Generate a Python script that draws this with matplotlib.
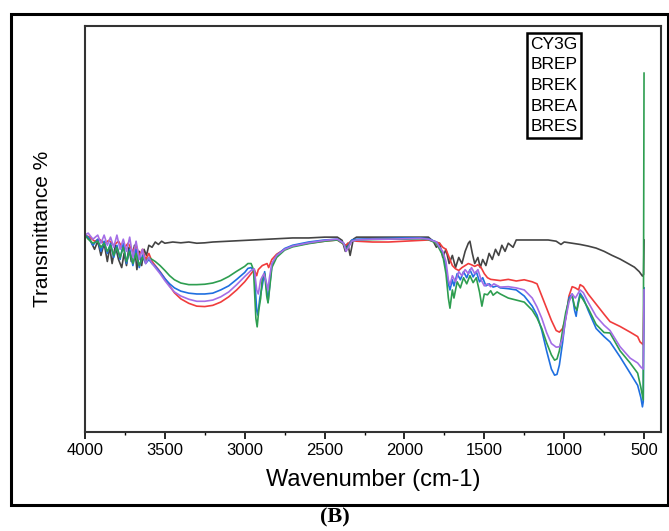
import matplotlib.pyplot as plt
from matplotlib.patches import Rectangle
from matplotlib.ticker import MultipleLocator

# Series (wavenumber in cm-1, transmittance in %)
cy3g_wn = [4000, 3970, 3940, 3920, 3900, 3880, 3860, 3845, 3830, 3810, 3790, 3770, 3755, 3740,
           3725, 3710, 3690, 3675, 3660, 3645, 3630, 3615, 3600, 3580, 3560, 3540, 3520, 3500,
           3450, 3400, 3350, 3300, 3250, 3200, 3100, 3000, 2900, 2800, 2700, 2600, 2500, 2420,
           2390, 2370, 2355, 2340, 2320, 2300, 2200, 2100, 2000, 1900, 1850, 1820, 1800, 1780,
           1760, 1740, 1720, 1700, 1680, 1660, 1640, 1620, 1600, 1590, 1575, 1560, 1540, 1525,
           1510, 1490, 1470, 1450, 1430, 1410, 1390, 1370, 1350, 1320, 1300, 1200, 1100, 1050,
           1020, 1000, 950, 900, 850, 800, 750, 700, 650, 600, 560, 530, 510, 503, 500]
cy3g_t = [48.5, 47.5, 45.0, 47.0, 43.5, 46.5, 42.0, 45.5, 41.5, 46.0, 42.5, 40.5, 44.0, 41.0,
          45.5, 42.0, 46.0, 40.0, 44.5, 41.0, 45.0, 43.5, 46.0, 45.5, 46.8, 46.2, 47.0, 46.5,
          46.8, 46.6, 46.8, 46.5, 46.6, 46.8, 47.0, 47.2, 47.4, 47.6, 47.8, 47.8, 48.0, 48.0,
          47.2, 44.5, 46.5, 43.5, 47.5, 48.0, 48.0, 48.0, 48.0, 48.0, 48.0, 47.0, 45.5, 46.5,
          43.0, 45.0, 41.5, 43.5, 40.5, 43.0, 41.5, 44.5, 46.5, 47.0, 44.0, 41.5, 43.0, 40.5,
          42.5, 41.0, 44.0, 42.5, 45.0, 43.5, 46.0, 44.5, 46.5, 45.5, 47.3, 47.3, 47.3, 47.0,
          46.2, 46.8, 46.5, 46.2, 45.8, 45.3, 44.5, 43.5, 42.6, 41.5, 40.6, 39.5, 38.4, 38.8, 47.3]

brep_wn = [4000, 3970, 3940, 3910, 3880, 3850, 3820, 3790, 3760, 3730, 3700, 3680, 3660, 3640,
           3620, 3600, 3580, 3560, 3530, 3500, 3470, 3440, 3400, 3350, 3300, 3250, 3200, 3150,
           3100, 3050, 3000, 2960, 2940, 2925, 2915, 2890, 2860, 2850, 2830, 2800, 2750, 2700,
           2600, 2500, 2420, 2370, 2350, 2330, 2300, 2200, 2100, 2000, 1900, 1850, 1800, 1780,
           1760, 1740, 1720, 1700, 1680, 1660, 1640, 1620, 1600, 1580, 1560, 1540, 1520, 1500,
           1480, 1460, 1440, 1400, 1350, 1300, 1250, 1200, 1170, 1140, 1110, 1080, 1050, 1030,
           1010, 990, 970, 950, 930, 910, 900, 880, 850, 800, 750, 713, 650, 587, 540, 525, 505, 500]
brep_t = [48.5, 48.0, 47.0, 47.5, 46.5, 47.2, 46.0, 47.0, 45.0, 46.5, 44.5, 46.0, 43.5, 45.0,
          42.5, 44.0, 42.0, 41.0, 39.5, 37.8, 36.0, 34.3, 32.8, 31.7, 31.0, 30.9, 31.2, 32.0,
          33.3, 35.0, 37.0, 39.0, 40.0, 38.5, 40.0, 41.0, 41.5, 40.5, 42.5, 43.8, 45.0, 45.8,
          46.5, 47.0, 47.3, 46.0, 46.5, 47.2, 47.0, 46.8, 46.8, 47.0, 47.2, 47.3, 46.8, 46.5,
          45.5, 45.0, 43.0, 41.0, 40.2, 39.8, 40.5, 41.0, 41.5, 41.2, 40.8, 41.2, 40.5, 39.0,
          38.0, 37.6, 37.5, 37.3, 37.6, 37.2, 37.5, 37.0, 36.5, 33.5, 30.5, 27.5, 25.0, 24.6,
          25.5, 28.0, 33.5, 35.8, 35.5, 35.0, 36.3, 35.8, 34.0, 31.5, 29.0, 27.2, 26.0, 24.6,
          23.5, 22.2, 21.5, 35.0]

brek_wn = [4000, 3980, 3950, 3920, 3900, 3880, 3860, 3840, 3820, 3800, 3780, 3760, 3740, 3720,
           3700, 3680, 3660, 3640, 3620, 3600, 3580, 3560, 3530, 3500, 3470, 3440, 3400, 3350,
           3300, 3250, 3200, 3150, 3100, 3050, 3000, 2980, 2960, 2940, 2925, 2918, 2905, 2890,
           2875, 2862, 2854, 2845, 2830, 2800, 2750, 2700, 2600, 2500, 2420, 2380, 2365, 2350,
           2330, 2300, 2200, 2100, 2000, 1900, 1850, 1800, 1780, 1760, 1740, 1725, 1715, 1700,
           1690, 1670, 1650, 1630, 1610, 1590, 1570, 1550, 1530, 1510, 1490, 1470, 1445, 1420,
           1400, 1350, 1300, 1250, 1200, 1170, 1140, 1110, 1080, 1060, 1045, 1030, 1010, 990,
           970, 950, 935, 925, 915, 900, 880, 850, 800, 750, 713, 650, 587, 540, 520, 510, 505, 500]
brek_t = [48.5, 48.0, 46.0, 47.5, 44.5, 47.0, 44.0, 46.5, 43.0, 46.0, 42.5, 46.5, 41.5, 45.0,
          41.0, 45.0, 40.5, 43.5, 41.5, 42.5, 41.5, 40.8, 39.4, 37.8, 36.5, 35.5, 34.7, 34.2,
          34.0, 34.0, 34.2, 35.0, 36.0, 37.6, 39.3, 40.3, 40.5, 39.5, 30.0, 28.8, 33.0, 36.0,
          39.5, 35.0, 32.0, 35.5, 41.0, 43.5, 45.2, 46.0, 46.8, 47.3, 47.5, 46.5, 45.0, 46.0,
          47.3, 47.5, 47.6, 47.7, 47.8, 47.8, 47.6, 46.8, 45.5, 44.0, 40.5, 36.5, 35.0, 37.5,
          36.0, 39.0, 37.5, 39.5, 38.0, 40.0, 38.2, 39.5, 37.0, 38.0, 36.0, 36.5, 35.7, 36.0,
          35.5, 35.3, 35.0, 33.5, 31.0, 28.8, 25.0, 20.0, 15.5, 14.0, 14.2, 16.5, 22.0, 28.5,
          33.0, 34.0, 30.0, 28.5, 31.5, 34.2, 33.0, 30.0, 25.5, 23.5, 22.2, 18.5, 14.5, 11.5,
          8.5, 6.2, 7.5, 35.5]

brea_wn = [4000, 3980, 3950, 3920, 3900, 3880, 3860, 3840, 3820, 3800, 3780, 3760, 3740, 3720,
           3700, 3680, 3660, 3640, 3620, 3600, 3580, 3560, 3530, 3500, 3470, 3440, 3400, 3350,
           3300, 3250, 3200, 3150, 3100, 3050, 3000, 2980, 2960, 2945, 2930, 2922, 2912, 2900,
           2890, 2875, 2862, 2854, 2845, 2830, 2800, 2750, 2700, 2600, 2500, 2420, 2380, 2365,
           2350, 2330, 2300, 2200, 2100, 2000, 1900, 1850, 1800, 1780, 1760, 1740, 1725, 1715,
           1700, 1690, 1670, 1650, 1630, 1610, 1590, 1570, 1550, 1530, 1515, 1500, 1480, 1460,
           1445, 1420, 1400, 1350, 1300, 1250, 1200, 1170, 1140, 1110, 1080, 1060, 1045, 1030,
           1010, 990, 970, 950, 935, 920, 900, 880, 850, 800, 750, 713, 650, 587, 540, 520, 505, 500]
brea_t = [48.5, 47.5, 46.5, 47.0, 45.5, 46.5, 44.5, 46.0, 43.5, 45.5, 43.0, 45.5, 42.0, 44.5,
          41.5, 44.0, 41.0, 43.0, 42.0, 43.0, 42.5, 42.0, 41.0, 39.8, 38.5, 37.5, 36.7, 36.3,
          36.3, 36.4, 36.7, 37.3, 38.3, 39.6, 40.8, 41.5, 41.5, 40.0, 28.0, 25.9, 30.0, 33.0,
          38.0, 39.0, 33.5, 31.8, 35.0, 40.5, 43.0, 44.8, 45.6, 46.4, 47.0, 47.3, 46.3, 44.8,
          45.8, 47.0, 47.3, 47.4, 47.5, 47.5, 47.6, 47.4, 46.5, 45.0, 43.5, 39.0, 33.0, 30.5,
          35.0, 33.0, 37.0, 35.5, 38.0, 36.5, 38.5, 36.8, 38.0, 34.5, 31.0, 34.0, 33.8, 34.8,
          33.7, 34.5, 34.0, 33.0, 32.5, 32.0, 30.0, 28.1, 25.5, 22.0, 19.0, 17.7, 18.0, 20.0,
          25.0, 29.5, 32.5, 33.5, 31.0, 30.0, 33.7, 32.5, 30.5, 26.5, 24.5, 24.4, 20.0, 17.0,
          14.5, 11.0, 7.9, 88.4]

bres_wn = [4000, 3980, 3950, 3920, 3900, 3880, 3860, 3840, 3820, 3800, 3780, 3760, 3740, 3720,
           3700, 3680, 3660, 3640, 3620, 3600, 3580, 3560, 3530, 3500, 3470, 3440, 3400, 3350,
           3300, 3250, 3200, 3150, 3100, 3050, 3000, 2960, 2940, 2925, 2915, 2900, 2880, 2865,
           2855, 2845, 2830, 2800, 2750, 2700, 2600, 2500, 2420, 2380, 2365, 2350, 2330, 2300,
           2200, 2100, 2000, 1900, 1850, 1800, 1780, 1760, 1740, 1725, 1715, 1700, 1680, 1660,
           1640, 1620, 1600, 1580, 1560, 1540, 1520, 1500, 1480, 1460, 1440, 1400, 1350, 1300,
           1250, 1200, 1170, 1140, 1110, 1080, 1050, 1030, 1010, 990, 970, 950, 930, 900, 880,
           850, 800, 750, 713, 650, 587, 540, 520, 505, 500]
bres_t = [48.5, 49.0, 47.5, 48.5, 46.5, 48.5, 46.0, 48.0, 45.5, 48.5, 45.0, 47.5, 44.5, 48.0,
          43.0, 47.0, 42.5, 45.0, 41.5, 43.0, 41.5, 40.5, 39.0, 37.3, 35.8, 34.5, 33.5, 32.7,
          32.2, 32.2, 32.5, 33.3, 34.5, 36.3, 38.3, 39.8, 40.2, 35.0, 34.0, 37.5, 39.0, 37.0,
          35.0, 38.0, 41.5, 43.5, 45.0, 45.8, 46.6, 47.2, 47.5, 46.5, 44.5, 45.5, 47.0, 47.3,
          47.5, 47.5, 47.6, 47.7, 47.5, 46.8, 45.5, 44.5, 42.0, 37.5, 36.2, 38.5, 37.0, 39.5,
          38.5, 40.0, 39.0, 40.5, 39.0, 40.0, 37.5, 36.0, 36.5, 35.8, 36.5, 35.7, 35.8, 35.5,
          35.0, 33.0, 30.8, 28.0, 24.5, 21.8, 20.9, 21.0, 23.0, 28.0, 32.0, 34.0, 33.0, 35.0,
          34.3, 32.0, 28.5, 26.3, 25.0, 21.0, 18.2, 17.0, 16.0, 15.5, 35.0]

labels = ["CY3G", "BREP", "BREK", "BREA", "BRES"]
colors = ["#444444", "#f03c3c", "#1f6fe0", "#2e9e50", "#a46ee6"]

fig = plt.figure(figsize=(6.69, 5.31), dpi=100)
ax = fig.add_axes([0.127, 0.1864, 0.861, 0.7646])

series = [(cy3g_wn, cy3g_t), (brep_wn, brep_t), (brek_wn, brek_t),
          (brea_wn, brea_t), (bres_wn, bres_t)]
for (wn, t), lab, col in zip(series, labels, colors):
    ax.plot(wn, t, color=col, lw=1.2, label=lab)

ax.set_xlim(4000, 394)
ax.set_ylim(0, 100)
ax.xaxis.set_major_locator(MultipleLocator(500))
ax.xaxis.set_minor_locator(MultipleLocator(250))
ax.tick_params(axis='x', which='major', direction='out', length=5, width=1.2,
               labelsize=12, top=False, pad=3)
ax.tick_params(axis='x', which='minor', direction='out', length=2.5, width=1.0, top=False)
ax.set_yticks([])
for lbl in ax.get_xticklabels():
    lbl.set_fontfamily('Liberation Sans')
for sp in ax.spines.values():
    sp.set_color('#333333')
    sp.set_linewidth(1.5)

ax.set_xlabel('Wavenumber (cm-1)', fontsize=17, family='Liberation Sans', labelpad=8)
ax.set_ylabel('Transmittance %', fontsize=15, family='Liberation Sans', labelpad=24)

# Text-only legend with a square black frame
leg = ax.legend(loc='upper left', bbox_to_anchor=(527 / 669, 1 - 33 / 531),
                bbox_transform=fig.transFigure, handlelength=0, handletextpad=0,
                borderpad=0.2, borderaxespad=0, labelspacing=0.32, fancybox=False,
                framealpha=1, prop={'family': 'Liberation Sans', 'size': 12.5})
for h in leg.legend_handles:
    h.set_visible(False)
leg.get_frame().set_edgecolor('black')
leg.get_frame().set_linewidth(1.8)

# Outer frame and panel label
fig.patches.append(Rectangle((11 / 669, 1 - 505 / 531), 657 / 669, 491 / 531,
                             transform=fig.transFigure, fill=False, ec='black', lw=2.2))
fig.text(335 / 669, 1 - 517 / 531, '(B)', ha='center', va='center', fontsize=16,
         fontweight='bold', family='Liberation Serif')

fig.savefig('out.png', dpi=100)
